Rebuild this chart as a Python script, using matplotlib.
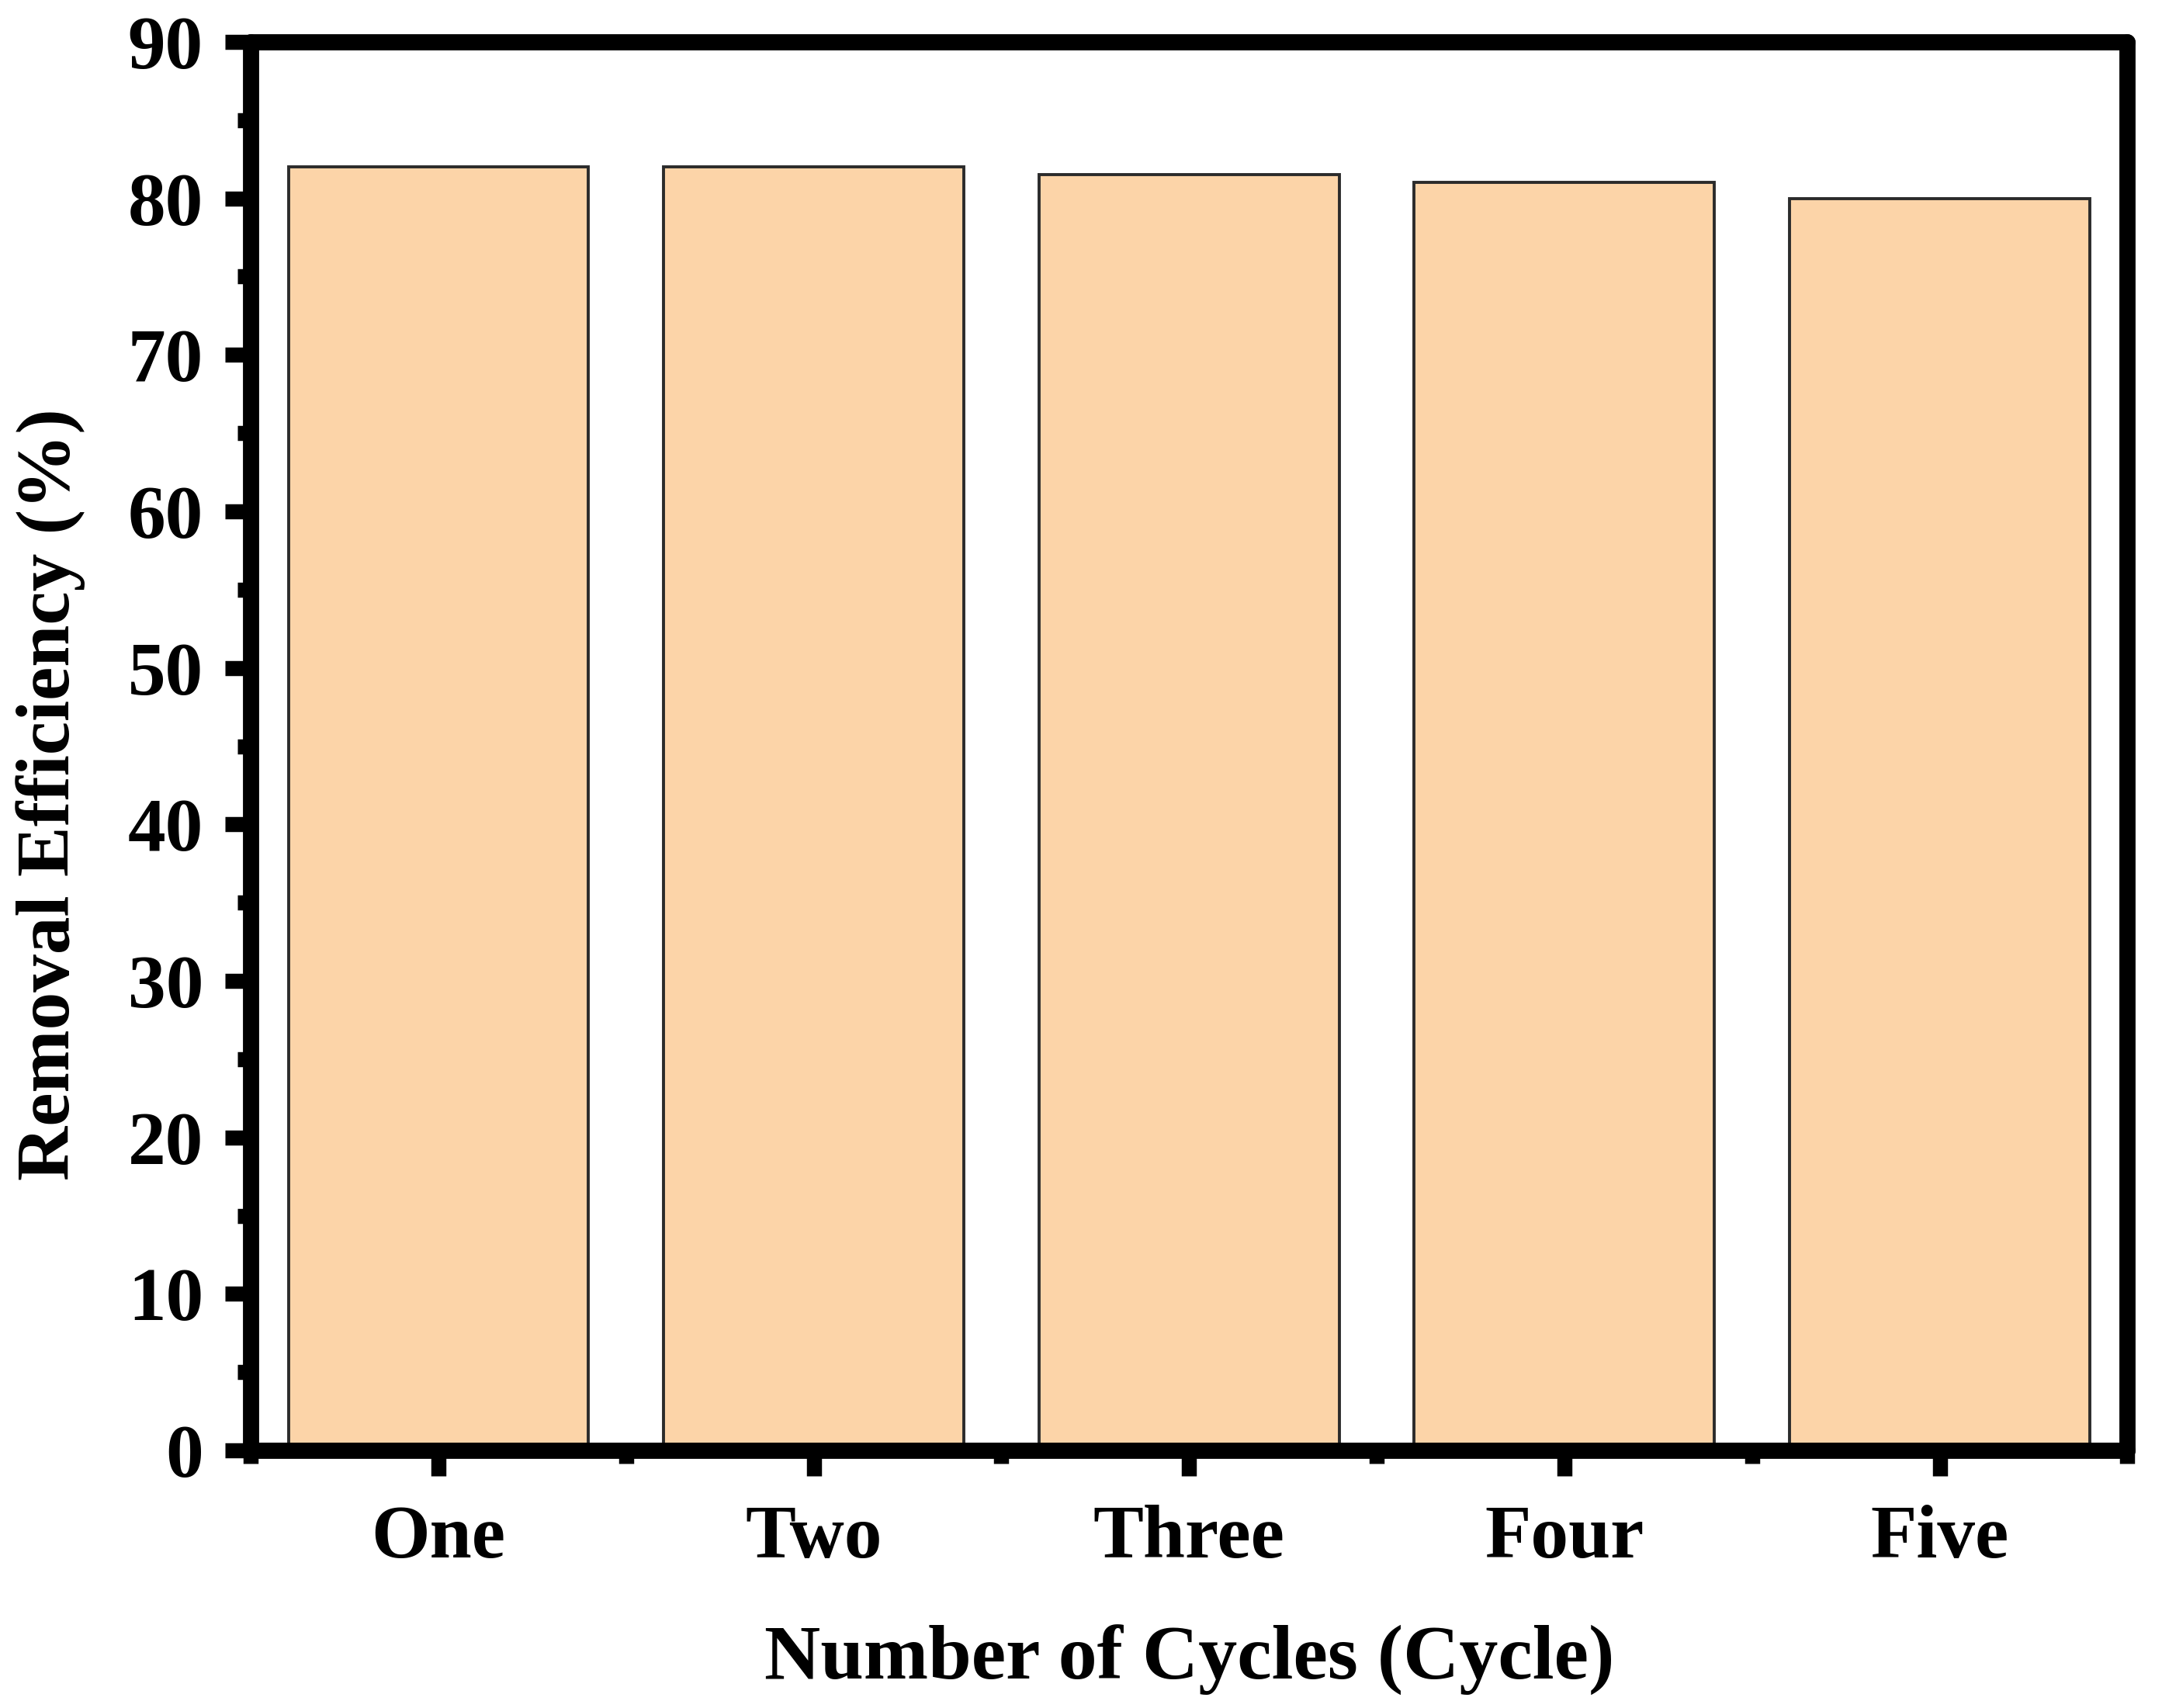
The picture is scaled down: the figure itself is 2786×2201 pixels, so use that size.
"""
Removal efficiency over repeated adsorption cycles, drawn as a bar chart.
"""

import matplotlib
matplotlib.use("Agg")
import matplotlib.pyplot as plt
from matplotlib.ticker import FixedLocator, MultipleLocator

# Cycle names and measured removal efficiency (%).
cycles = ["One", "Two", "Three", "Four", "Five"]
efficiency = [82.0, 82.0, 81.5, 81.0, 80.0]

# Axis ticks.
y_ticks = [0, 10, 20, 30, 40, 50, 60, 70, 80, 90]

OUTPUT_PLOT = "out.png"

plt.rcParams["font.family"] = ["Liberation Serif", "DejaVu Serif"]
plt.rcParams["font.weight"] = "bold"

fig = plt.figure(figsize=(13.93, 11.005), dpi=200)
ax = fig.add_axes([0.116, 0.1508, 0.868, 0.8247])

positions = list(range(len(cycles)))
ax.bar(
    positions,
    efficiency,
    width=0.8,
    color="#FCD4A8",
    edgecolor="#2b2b2b",
    linewidth=1.4,
    zorder=2,
)

ax.set_xlim(-0.5, len(cycles) - 0.5)
ax.set_ylim(0, 90)
ax.set_xticks(positions)
ax.set_xticklabels(cycles)
ax.xaxis.set_minor_locator(FixedLocator([p - 0.5 for p in positions] + [len(cycles) - 0.5]))
ax.set_yticks(y_ticks)
ax.yaxis.set_minor_locator(MultipleLocator(5))

for spine in ax.spines.values():
    spine.set_linewidth(7.5)
    spine.set_capstyle("round")

ax.tick_params(axis="both", which="major", direction="out", length=12, width=7,
               labelsize=35, pad=10)
ax.tick_params(axis="both", which="minor", direction="out", length=6, width=7)
ax.tick_params(top=False, right=False, which="both")
ax.tick_params(axis="x", which="major", pad=13)

for label in ax.get_xticklabels() + ax.get_yticklabels():
    label.set_fontweight("bold")

ax.set_xlabel("Number of Cycles (Cycle)", fontsize=36, fontweight="bold", labelpad=24)
ax.set_ylabel("Removal Efficiency (%)", fontsize=35, fontweight="bold")
ax.yaxis.set_label_coords(-0.088, 0.466)

fig.savefig(OUTPUT_PLOT, dpi=200)
